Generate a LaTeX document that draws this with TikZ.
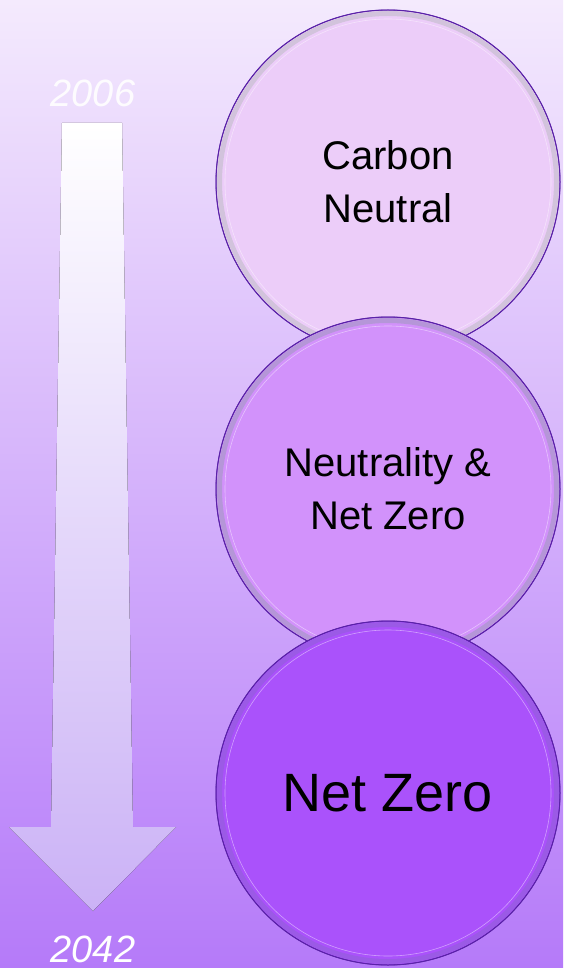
\documentclass[tikz,border=0pt]{standalone}
\usepackage{fontspec}
\setmainfont{Liberation Sans}
\usetikzlibrary{positioning}
\definecolor{fondoarriba}{HTML}{F4EAFD}
\definecolor{fondoabajo}{HTML}{B57AF9}
\definecolor{flechaabajo}{HTML}{CBB2F6}
\definecolor{flechamedio}{HTML}{F3E9FD}
\definecolor{borde}{HTML}{5A22A8}
\definecolor{relleno1}{HTML}{ECCDF9}
\definecolor{relleno2}{HTML}{D292FB}
\definecolor{relleno3}{HTML}{AA52FB}
\definecolor{aro1}{HTML}{D2C3DC}
\definecolor{aro2}{HTML}{B596D8}
\definecolor{aro3}{HTML}{9B5AE6}
\tikzset{
	every node/.style={
		font=\fontsize{40}{53}\selectfont
	},
	etapa/.style={
		shape=circle,
		minimum size=344pt,
		inner sep=0pt,
		text centered,
		align=center,
		line width=1pt,
		draw=borde,
		fill=#1
	},
	anillo/.style={
		line width=5pt,
		draw=#1
	},
	anillofino/.style={
		line width=0.6pt,
		draw=white,
		draw opacity=0.45
	},
	anio/.style={
		font=\fontsize{38}{38}\selectfont\itshape,
		text=white,
		inner sep=0pt,
		text depth=0pt,
		anchor=base
	}
}

\begin{document}
\begin{tikzpicture}[x=1pt, y=-1pt]

\useasboundingbox (0,0) rectangle (563,968);
\fill[top color=fondoarriba, bottom color=fondoabajo] (0,0) rectangle (563,968);

% flecha del tiempo
\fill[top color=white, middle color=flechamedio, bottom color=flechaabajo]
	(62,123) -- (122,123) -- (133,827) -- (176,827) -- (93,911)
	-- (9,827) -- (51,827) -- cycle;

\node [anio, text opacity=0.9] (y2006) at (93,107) {2006};
\node [anio] (y2042) at (93,962) {2042};

% etapas
\node [etapa=relleno1] (carbon) at (388,182) {Carbon\\Neutral};
\draw [anillo=aro1] (carbon.center) circle (168.5pt);
\draw [anillofino] (carbon.center) circle (163pt);
\draw [borde, line width=0.8pt] (carbon.center) circle (172pt);

\node [etapa=relleno2] (neutral) at (388,489) {Neutrality \&\\Net Zero};
\draw [anillo=aro2] (neutral.center) circle (168.5pt);
\draw [anillofino] (neutral.center) circle (163pt);
\draw [borde, line width=0.8pt] (neutral.center) circle (172pt);

\node [etapa=relleno3, font=\fontsize{54}{60}\selectfont] (netzero) at (388,793) {Net Zero};
\draw [anillo=aro3] (netzero.center) circle (168.5pt);
\draw [anillofino] (netzero.center) circle (163pt);
\draw [borde, line width=0.8pt] (netzero.center) circle (172pt);

\end{tikzpicture}
\end{document}
